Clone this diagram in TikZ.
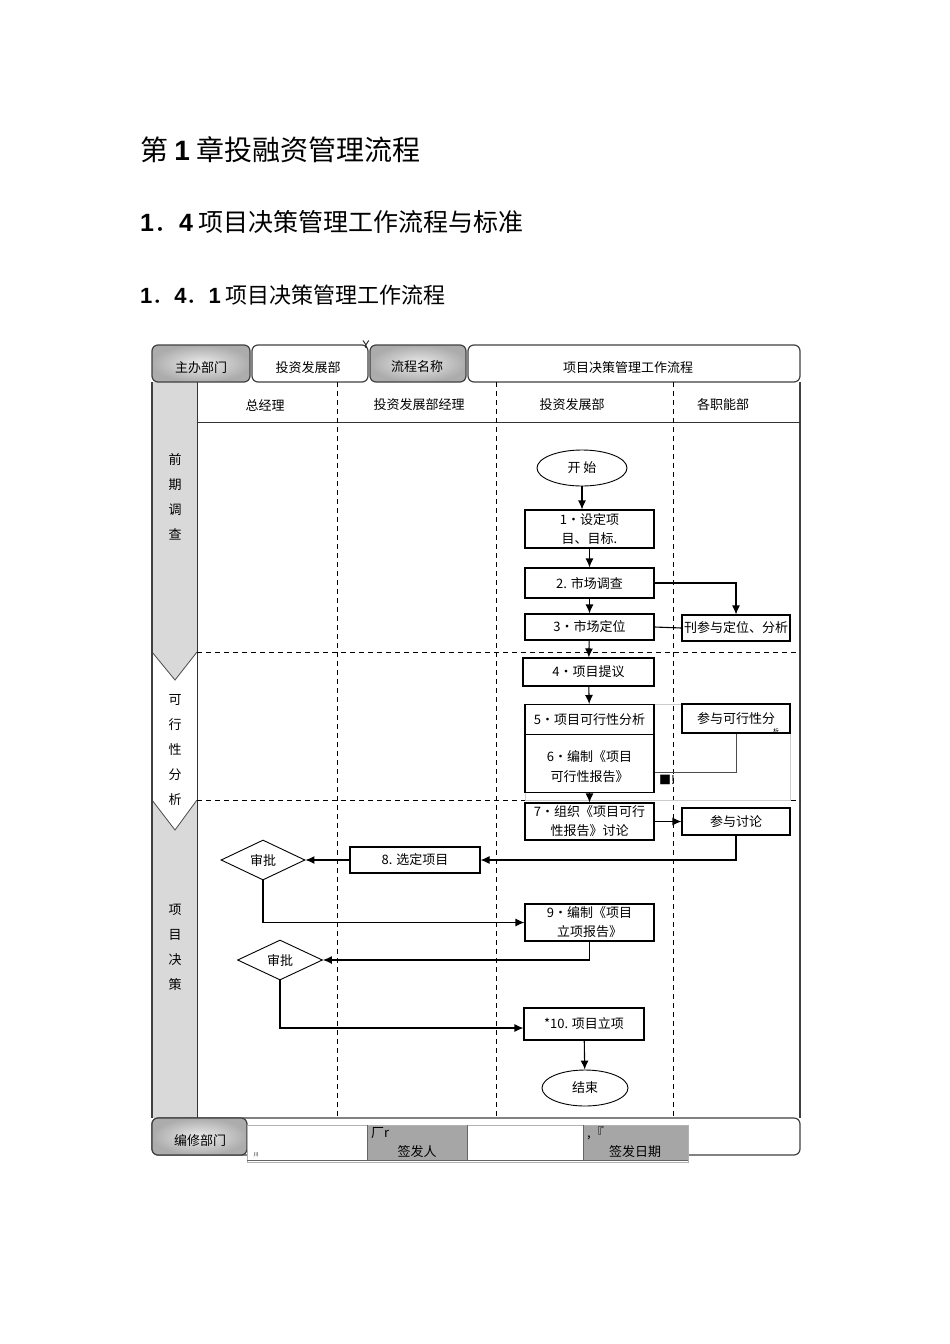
\documentclass[tikz,border=0pt]{standalone}
\usepackage{fontspec}
\setmainfont{Liberation Sans}
\newfontfamily\cjk{Noto Sans CJK SC}
\usetikzlibrary{arrows.meta,shapes.geometric}
\definecolor{lanegray}{HTML}{D9D9D9}
\definecolor{cellgray}{HTML}{A6A6A6}
\begin{document}
\begin{tikzpicture}[x=1pt,y=-1pt,
  every node/.style={font=\cjk\fontsize{13}{16}\selectfont, inner sep=1pt},
  box/.style={draw, line width=1.1pt, minimum width=129pt, inner sep=1pt, align=center},
  pbox/.style={draw, line width=1.1pt, minimum width=108pt, inner sep=1pt, align=center},
  arr/.style={line width=1.1pt, -{Latex[length=9pt,width=8pt]}},
  ln/.style={line width=1.1pt},
  lane/.style={dash pattern=on 5pt off 4pt, line width=0.9pt},
  frame/.style={draw=black!75, line width=1.2pt},
  hcell/.style={frame, rounded corners=6pt},
  gcell/.style={hcell, inner color=gray!15, outer color=gray!65},
  ttl/.style={anchor=west, inner sep=0pt}
  ]
\useasboundingbox (0,0) rectangle (950,1344);

% titles
\node[ttl, font=\cjk\fontsize{28}{30}\selectfont] (t1) at (140,150) {第 {\fontspec{Liberation Sans}\bfseries 1} 章投融资管理流程};
\node[ttl, font=\cjk\fontsize{25}{28}\selectfont] (t2) at (140,222) {{\fontspec{Liberation Sans}\bfseries 1}．{\fontspec{Liberation Sans}\bfseries 4} 项目决策管理工作流程与标准};
\node[ttl, font=\cjk\fontsize{22}{25}\selectfont] (t3) at (140,295) {{\fontspec{Liberation Sans}\bfseries 1}．{\fontspec{Liberation Sans}\bfseries 4}．{\fontspec{Liberation Sans}\bfseries 1} 项目决策管理工作流程};

% body frame
\fill[white] (152,382) rectangle (800,1118);
\fill[lanegray] (152,382) -- (197,382) -- (197,652) -- (175,680) -- (152,652) -- cycle;
\fill[lanegray] (152,800) -- (175,830) -- (197,800) -- (197,1118) -- (152,1118) -- cycle;
\draw[black!70, line width=0.8pt] (152,652) -- (175,680) -- (197,652);
\draw[black!70, line width=0.8pt] (152,800) -- (175,830) -- (197,800);
\draw[frame] (152,382) -- (152,1118);
\draw[frame] (800,382) -- (800,1118);
\draw[black!80, line width=1pt] (197,382) -- (197,1118);
\draw[black!80, line width=1pt] (197,422) -- (800,422);

% header row
\shade[gcell] (152,345) rectangle (250,382);
\draw[hcell, fill=white] (252,345) rectangle (368,382);
\shade[gcell] (370,345) rectangle (466,382);
\draw[hcell, fill=white] (468,345) rectangle (800,382);
\node (h1) at (201,368) {主办部门};
\node (h2) at (308,368) {投资发展部};
\node (h3) at (417,367) {流程名称};
\node (h4) at (628,368) {项目决策管理工作流程};
\node[font=\fontsize{11}{12}\selectfont] (hy) at (366,345) {Y};

% column headers
\node (c1) at (265,405) {总经理};
\node (c2) at (419,405) {投资发展部经理};
\node (c3) at (572,405) {投资发展部};
\node (c4) at (723,405) {各职能部};

% lanes
\foreach \xx in {337,496,673} \draw[lane] (\xx,382) -- (\xx,1118);
\draw[lane] (197,652) -- (800,652);
\draw[lane] (197,800) -- (800,800);

% phase labels
\node[align=center, font=\cjk\fontsize{13}{25}\selectfont] (ph1) at (175,497) {前\\期\\调\\查};
\node[align=center, font=\cjk\fontsize{13}{25}\selectfont] (ph2) at (175,750) {可\\行\\性\\分\\析};
\node[align=center, font=\cjk\fontsize{13}{25}\selectfont] (ph3) at (175,947) {项\\目\\决\\策};

% flow nodes
\node[ellipse, draw, line width=0.9pt, minimum width=90pt, minimum height=36pt] (s) at (582,468) {开\ 始};
\node[box, minimum height=38pt, font=\cjk\fontsize{13}{20}\selectfont] (b1) at (589.5,529) {1•设定项\\目、目标.};
\node[box, minimum height=30pt] (b2) at (589.5,583) {2. 市场调查};
\node[box, minimum height=26pt] (b3) at (589.5,627) {3•市场定位};
\node[pbox, minimum height=26pt] (p3) at (736,628) {刊参与定位、分析};
\node[box, minimum width=131pt, minimum height=28pt] (b4) at (588.5,672) {4•项目提议};
\draw[gray!40, line width=0.7pt] (525,704) rectangle (790,800);
\node[box, minimum height=30pt, anchor=north] (b5) at (589.5,704) {\raisebox{-6pt}{5•项目可行性分析}};
\node[box, minimum height=58pt, anchor=north, font=\cjk\fontsize{13}{20}\selectfont] (b6) at (589.5,734) {\\[-2pt]6•编制《项目\\可行性报告》};
\node[pbox, minimum height=29pt] (p5) at (736,718.5) {参与可行性分};
\node[font=\cjk\fontsize{6}{7}\selectfont] (p5t) at (776,731) {析};
\node[font=\cjk\fontsize{12}{14}\selectfont] (sq) at (667,780) {■!};
\node[box, minimum height=37pt, font=\cjk\fontsize{13}{19}\selectfont] (b7) at (589.5,821.5) {7•组织《项目可行\\性报告》讨论};
\node[pbox, minimum height=27pt] (p7) at (736,821.5) {参与讨论};
\node[box, minimum width=130pt, minimum height=26pt] (b8) at (415,860) {8. 选定项目};
\node[diamond, draw, line width=0.9pt, minimum width=84pt, minimum height=40pt, inner sep=0pt] (d1) at (263,860) {\raisebox{-3pt}{审批}};
\node[box, minimum height=37pt, font=\cjk\fontsize{13}{19}\selectfont] (b9) at (589.5,922.5) {9•编制《项目\\立项报告》};
\node[diamond, draw, line width=0.9pt, minimum width=85pt, minimum height=40pt, inner sep=0pt] (d2) at (280,960) {审批};
\node[box, minimum width=120pt, minimum height=32pt] (b10) at (584,1024) {*10. 项目立项};
\node[ellipse, draw, line width=0.9pt, minimum width=86pt, minimum height=36pt] (e) at (585,1088) {结束};

% connectors
\draw[arr] (s.south) -- (s.south |- b1.north);
\draw[arr] (b1) -- (b2);
\draw[arr] (b2) -- (b3);
\draw[arr] (b2.east) -| (p3.north);
\draw[ln] (b3.east) -- (p3.west);
\draw[arr] (b3) -- (b4);
\draw[arr] (b4) -- (b5);
\draw[line width=0.8pt, black!70] (p5.south) |- ([yshift=-9pt]b6.east);
\draw[arr] (b6) -- (b7);
\draw[arr] (b7) -- (p7);
\draw[arr] (p7.south) |- (b8.east);
\draw[arr] (b8) -- (d1);
\draw[arr] (d1.south) |- (b9.west);
\draw[arr] (b9.south) |- (d2.east);
\draw[arr] (d2.south) |- ([yshift=-4pt]b10.west);
\draw[arr] (b10) -- (e);

% footer row
\draw[hcell, fill=white] (152,1118) rectangle (800,1155);
\shade[gcell] (152,1118) rectangle (247,1155);
\fill[white] (247,1125) rectangle (688,1162);
\fill[cellgray] (367,1125) rectangle (467,1160);
\fill[cellgray] (583,1125) rectangle (688,1160);
\draw[gray!60, line width=0.6pt] (247,1125) rectangle (688,1162);
\draw[black!60, line width=0.6pt] (367,1125) -- (367,1160) (467,1125) -- (467,1160) (583,1125) -- (583,1160);
\draw[black!60, line width=0.6pt] (247,1160) -- (688,1160);
\node (f1) at (200,1141) {编修部门};
\node (f2) at (417,1152) {签发人};
\node (f3) at (635,1152) {签发日期};
\node[anchor=west] (f4) at (370,1133) {厂r};
\node[anchor=west] (f5) at (586,1133) {,『};
\node[font=\cjk\fontsize{5}{6}\selectfont] (f6) at (256,1155) {川};
\end{tikzpicture}
\end{document}
